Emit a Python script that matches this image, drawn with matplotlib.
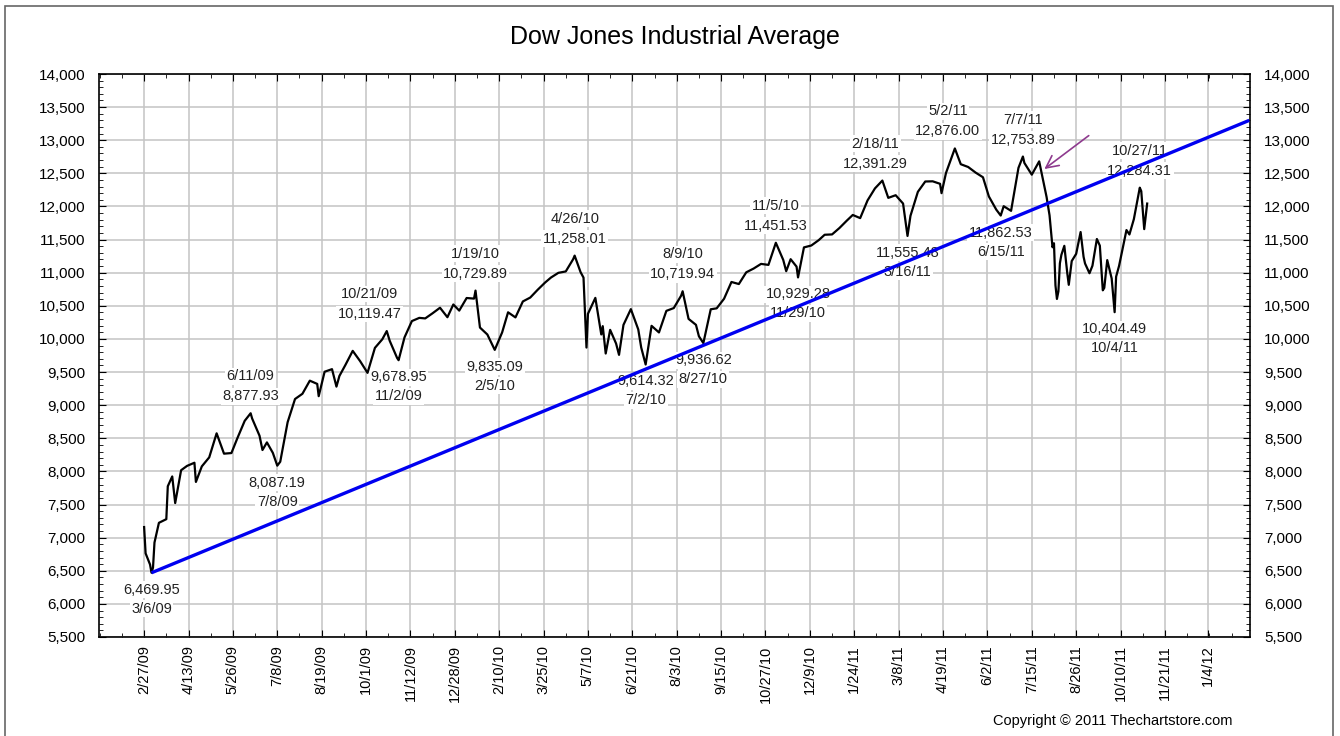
import numpy as np
import pandas as pd
import matplotlib
matplotlib.use("Agg")
import matplotlib.pyplot as plt
from matplotlib.ticker import MultipleLocator, FuncFormatter
from matplotlib.patches import Rectangle

plt.rcParams['font.family'] = ['Liberation Sans', 'DejaVu Sans']

# NYSE holidays (chart x axis counts trading days)
holidays = ["2009-04-10", "2009-05-25", "2009-07-03", "2009-09-07", "2009-11-26", "2009-12-25",
            "2010-01-01", "2010-01-18", "2010-02-15", "2010-04-02", "2010-05-31", "2010-07-05",
            "2010-09-06", "2010-11-25", "2010-12-24", "2011-01-17", "2011-02-21", "2011-04-22",
            "2011-05-30", "2011-07-04", "2011-09-05", "2011-11-24", "2011-12-26", "2012-01-02",
            "2012-01-16"]

# DJIA values (weekly plus swing highs / lows)
d09 = ["02-27", "03-02", "03-05", "03-06", "03-09", "03-10", "03-13", "03-20", "03-23", "03-26",
       "03-30", "04-03", "04-09", "04-17", "04-20", "04-24", "05-01", "05-08", "05-15", "05-22",
       "05-29", "06-05", "06-11", "06-12", "06-19", "06-23", "06-26", "07-02", "07-08", "07-10",
       "07-17", "07-24", "07-31", "08-07", "08-14", "08-17", "08-21", "08-28", "09-02", "09-04",
       "09-11", "09-18", "09-25", "10-02", "10-09", "10-16", "10-21", "10-23", "10-30", "11-02",
       "11-06", "11-13", "11-20", "11-27", "12-04", "12-11", "12-18", "12-24", "12-31"]
v09 = [7160, 6763, 6594, 6470, 6547, 6926, 7224, 7279, 7776, 7924,
       7522, 8018, 8083, 8131, 7841, 8076, 8212, 8575, 8268, 8277,
       8500, 8764, 8878, 8799, 8539, 8323, 8438, 8280, 8087, 8146,
       8743, 9093, 9172, 9370, 9321, 9136, 9505, 9544, 9280, 9441,
       9605, 9820, 9665, 9488, 9865, 9995, 10119, 9972, 9713, 9679,
       10023, 10270, 10318, 10310, 10388, 10471, 10328, 10520, 10428]

d10 = ["01-08", "01-15", "01-19", "01-22", "01-29", "02-05", "02-12", "02-19", "02-26", "03-05",
       "03-12", "03-19", "03-26", "04-01", "04-09", "04-16", "04-23", "04-26", "04-30", "05-04",
       "05-06", "05-07", "05-14", "05-20", "05-21", "05-25", "05-28", "06-04", "06-08", "06-11",
       "06-18", "06-25", "06-29", "07-02", "07-09", "07-16", "07-23", "07-30", "08-06", "08-09",
       "08-13", "08-20", "08-24", "08-27", "09-03", "09-10", "09-17", "09-24", "10-01", "10-08",
       "10-15", "10-22", "10-29", "11-05", "11-12", "11-16", "11-19", "11-26", "11-29", "12-03",
       "12-10", "12-17", "12-23", "12-31"]
v10 = [10618, 10609, 10730, 10172, 10067, 9835, 10099, 10402, 10325, 10566,
       10625, 10742, 10851, 10927, 10998, 11019, 11204, 11258, 11009, 10926,
       9870, 10380, 10620, 10068, 10193, 9780, 10137, 9931, 9760, 10212,
       10450, 10144, 9870, 9614, 10198, 10098, 10424, 10466, 10654, 10720,
       10303, 10213, 10040, 9937, 10448, 10462, 10607, 10860, 10829, 11006,
       11063, 11133, 11118, 11452, 11193, 11023, 11204, 11092, 10929, 11382,
       11411, 11492, 11573, 11578]

d11 = ["01-07", "01-14", "01-21", "01-28", "02-04", "02-11", "02-18", "02-25", "03-04", "03-11",
       "03-16", "03-18", "03-25", "04-01", "04-08", "04-15", "04-18", "04-21", "04-29", "05-02",
       "05-06", "05-13", "05-20", "05-27", "06-03", "06-10", "06-15", "06-17", "06-24", "07-01",
       "07-07", "07-08", "07-15", "07-22", "07-29", "08-02", "08-04", "08-05", "08-08", "08-09",
       "08-10", "08-11", "08-12", "08-16", "08-18", "08-19", "08-23", "08-26", "08-31", "09-02",
       "09-06", "09-09", "09-13", "09-16", "09-20", "09-22", "09-23", "09-27", "09-30", "10-03",
       "10-04", "10-05", "10-07", "10-14", "10-18", "10-21", "10-27", "10-28", "11-01", "11-03"]
v11 = [11675, 11787, 11872, 11824, 12092, 12273, 12391, 12130, 12170, 12044,
       11555, 11859, 12221, 12377, 12380, 12342, 12201, 12505, 12811, 12876,
       12638, 12596, 12512, 12441, 12151, 11952, 11863, 12004, 11934, 12583,
       12754, 12657, 12480, 12681, 12143, 11867, 11384, 11444, 10810, 10604,
       10720, 11143, 11269, 11406, 10991, 10817, 11176, 11285, 11614, 11240,
       11139, 10992, 11105, 11509, 11408, 10734, 10771, 11190, 10913, 10655,
       10404, 10940, 11103, 11644, 11577, 11809, 12284, 12231, 11658, 12044]

# trend line drawn from the March 2009 low
trend_dates = ["2009-03-06", "2012-02-14"]
trend_vals = [6469.95, 13300]

tick_labels = ["2/27/09", "4/13/09", "5/26/09", "7/8/09", "8/19/09", "10/1/09", "11/12/09",
               "12/28/09", "2/10/10", "3/25/10", "5/7/10", "6/21/10", "8/3/10", "9/15/10",
               "10/27/10", "12/9/10", "1/24/11", "3/8/11", "4/19/11", "6/2/11", "7/15/11",
               "8/26/11", "10/10/11", "11/21/11", "1/4/12"]

# labelled swing points
ann_dates = ["3/6/09", "6/11/09", "7/8/09", "10/21/09", "11/2/09", "1/19/10", "2/5/10",
             "4/26/10", "7/2/10", "8/9/10", "8/27/10", "11/5/10", "11/29/10", "2/18/11",
             "3/16/11", "5/2/11", "6/15/11", "7/7/11", "10/4/11", "10/27/11"]
ann_vals = [6469.95, 8877.93, 8087.19, 10119.47, 9678.95, 10729.89, 9835.09,
            11258.01, 9614.32, 10719.94, 9936.62, 11451.53, 10929.28, 12391.29,
            11555.48, 12876.00, 11862.53, 12753.89, 10404.49, 12284.31]
ann_kind = ["low", "high", "low", "high", "low", "high", "low",
            "high", "low", "high", "low", "high", "low", "high",
            "low", "high", "low", "high", "low", "high"]
ann_dx = {"10/21/09": -17, "2/18/11": -7, "5/2/11": -7}

start = np.datetime64("2009-02-27")
hol = np.array(holidays, dtype="datetime64[D]")


def tday(dates):
    d = np.array(dates, dtype="datetime64[D]")
    return np.busday_count(start, d, holidays=hol)


def iso(labels):
    return list(pd.to_datetime(labels, format="%m/%d/%y").strftime("%Y-%m-%d"))


dates = ["2009-" + d for d in d09] + ["2010-" + d for d in d10] + ["2011-" + d for d in d11]
values = v09 + v10 + v11
x = tday(dates)
tx = tday(trend_dates)
tick_pos = tday(iso(tick_labels))
ann_x = tday(iso(ann_dates))

W, H = 1340, 736
fig = plt.figure(figsize=(W / 100, H / 100), dpi=100)
ax = fig.add_axes([99 / W, 1 - 637 / H, (1250 - 99) / W, (637 - 74) / H])

ax.plot(x, values, color="black", lw=1.6, zorder=3)
ax.plot(tx, trend_vals, color="#0000f0", lw=2.4, zorder=4, solid_capstyle="butt")

ax.set_xlim(-30.5, tx[-1] + 0.5)
ax.set_ylim(5500, 14000)
ax.set_xticks(tick_pos)
ax.set_xticklabels(tick_labels, rotation=90, fontsize=10.5)
ax.xaxis.set_minor_locator(MultipleLocator(15))
ax.yaxis.set_major_locator(MultipleLocator(500))
ax.yaxis.set_minor_locator(MultipleLocator(100))
ax.yaxis.set_major_formatter(FuncFormatter(lambda v, p: f"{v:,.0f}"))
ax.tick_params(which="both", direction="in", top=True, right=True, labelright=True)
ax.tick_params(axis="y", which="major", labelsize=11, pad=10, length=5)
ax.tick_params(axis="x", which="major", pad=6, length=5)
ax.tick_params(which="minor", length=3)
ax.grid(True, which="major", color="#c4c4c4", lw=1.1)
ax.set_axisbelow(True)
for s in ax.spines.values():
    s.set_linewidth(1.2)

box = dict(facecolor="white", edgecolor="none", pad=1)
for d, xv, v, k in zip(ann_dates, ann_x, ann_vals, ann_kind):
    dx = ann_dx.get(d, 0)
    if k == "high":
        offs = [(d, 37), (f"{v:,.2f}", 17)]
    else:
        offs = [(f"{v:,.2f}", -17), (d, -36)]
    for txt, dy in offs:
        ax.annotate(txt, (xv, v), xytext=(dx, dy), textcoords="offset pixels",
                    ha="center", va="center", fontsize=10.5, color="#222222",
                    bbox=box, zorder=2)

# purple arrow at the trend-line break
ax.annotate("", xy=(607, 12540), xytext=(640, 13095),
            arrowprops=dict(arrowstyle="->", color="#8e3a8e", lw=1.2,
                            mutation_scale=22), zorder=5)

fig.text(674.5 / W, 1 - 37 / H, "Dow Jones Industrial Average", ha="center", va="center",
         fontsize=18)
fig.text(1113 / W, 1 - 721 / H, "Copyright \u00a9 2011 Thechartstore.com", ha="center",
         va="center", fontsize=10.5)
fig.patches.append(Rectangle((5 / W, -0.05), (1333 - 5) / W, 1.05 - 6 / H, fill=False,
                             edgecolor="#666666", lw=1.2, transform=fig.transFigure))

fig.savefig("out.png", dpi=100)
